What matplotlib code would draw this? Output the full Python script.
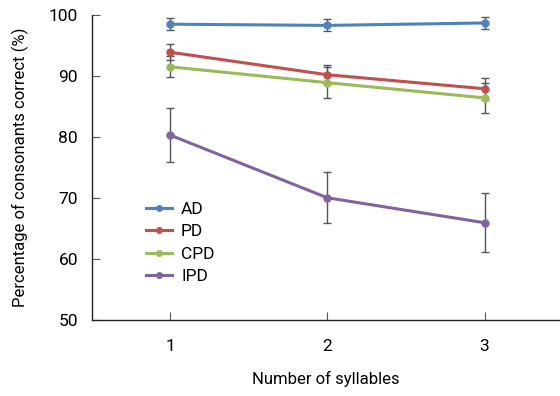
import matplotlib
matplotlib.use('Agg')
import matplotlib.pyplot as plt

plt.rcParams['font.family'] = ['Roboto', 'DejaVu Sans']

syllables = [1, 2, 3]
groups = ['AD', 'PD', 'CPD', 'IPD']
means = {
    'AD': [98.5, 98.3, 98.7],
    'PD': [93.9, 90.2, 87.9],
    'CPD': [91.5, 88.9, 86.4],
    'IPD': [80.3, 70.0, 65.9],
}
errs = {
    'AD': [1.0, 1.0, 1.0],
    'PD': [1.3, 1.6, 1.8],
    'CPD': [1.75, 2.6, 2.5],
    'IPD': [4.4, 4.2, 4.8],
}
colors = {'AD': '#4f81bd', 'PD': '#c0504d', 'CPD': '#9bbb59', 'IPD': '#8064a2'}

fig = plt.figure(figsize=(5.6, 3.96), dpi=100)
ax = fig.add_axes([0.164, 0.193, 0.836, 0.769])

for g in groups:
    ax.errorbar(syllables, means[g], yerr=errs[g], fmt='none',
                ecolor='#555555', elinewidth=1.0, capsize=3, capthick=1.0)
for g in groups:
    ax.plot(syllables, means[g], color=colors[g], marker='o', markersize=5,
            linewidth=2.2, label=g)

ax.set_xlim(0.503, 3.48)
ax.set_ylim(50, 100)
ax.set_xticks(syllables)
ax.set_yticks([50, 60, 70, 80, 90, 100])
ax.tick_params(direction='in', length=6, width=0.8, color='#555555',
               labelsize=12.5, pad=10)
ax.tick_params(axis='x', pad=14)
ax.spines['top'].set_visible(False)
ax.spines['right'].set_visible(False)
for s in ['left', 'bottom']:
    ax.spines[s].set_color('#222222')
    ax.spines[s].set_linewidth(1.0)

ax.set_xlabel('Number of syllables', fontsize=12, labelpad=12)
ax.set_ylabel('Percentage of consonants correct (%)', fontsize=12, labelpad=14)

leg = ax.legend(loc='upper left', bbox_to_anchor=(0.098, 0.415), frameon=False,
                fontsize=12.5, handlelength=1.5, handletextpad=0.5,
                labelspacing=0.42, borderpad=0, markerscale=0.8)

fig.savefig('out.png', dpi=100)
